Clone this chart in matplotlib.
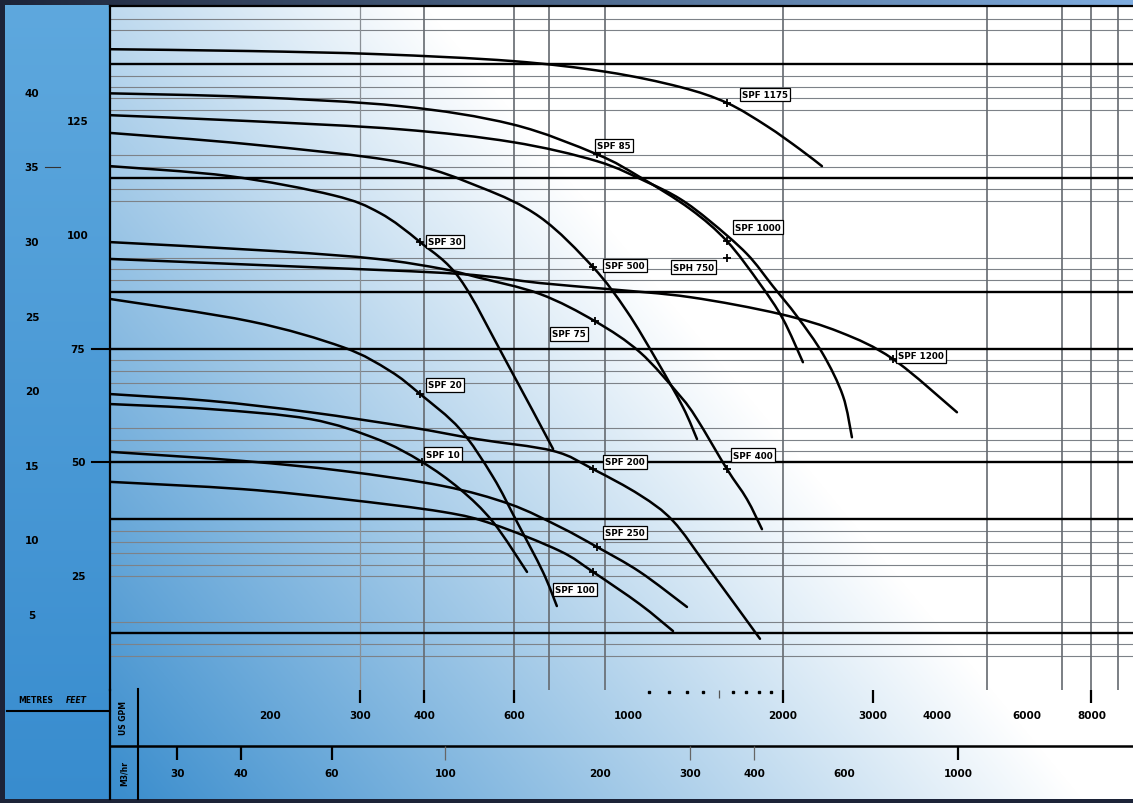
import numpy as np
import matplotlib
matplotlib.use("Agg")
import matplotlib.pyplot as plt
from matplotlib.lines import Line2D
from matplotlib.path import Path
from matplotlib.patches import PathPatch
from matplotlib.ticker import NullLocator

W, H = 1133, 804

# ---------------- data: pump curves, flow (US GPM) vs head (feet) ----------------
c1_gpm = [97.7, 183, 328, 594, 909, 1262, 1558, 1864, 2162, 2386]
c1_ft = [140.8, 140.4, 139.7, 138.2, 135.8, 132.5, 129.0, 123.9, 118.8, 115.1]

c2_gpm = [97.7, 183, 359, 594, 869, 1054, 1320, 1558, 1807, 2003, 2191]
c2_ft = [131.1, 130.3, 128.3, 124.3, 117.7, 112.7, 105.7, 98.6, 89.2, 81.5, 72.0]

c3_gpm = [97.7, 183, 359, 594, 869, 1088, 1262, 1444, 1704, 1915, 2133, 2397, 2622, 2730]
c3_ft = [126.3, 125.0, 123.2, 120.4, 116.2, 111.6, 107.9, 103.0, 95.8, 88.7, 82.1, 73.8, 64.6, 55.5]

c4_gpm = [97.7, 183, 359, 514, 673, 854, 994, 1138, 1279, 1362]
c4_ft = [122.4, 119.9, 116.0, 110.5, 103.9, 92.9, 83.2, 72.3, 62.1, 55.1]

c5_gpm = [97.7, 167, 266, 328, 393, 470, 575, 714]
c5_ft = [115.1, 112.9, 108.7, 104.8, 98.4, 90.3, 72.7, 52.9]

c6_gpm = [97.7, 207, 324, 435, 507, 673, 862, 1054, 1262, 1362, 1558, 1704, 1823]
c6_ft = [98.4, 96.4, 94.7, 92.5, 90.7, 87.0, 81.0, 74.2, 64.6, 59.5, 48.5, 41.9, 35.3]

c7_gpm = [97.7, 240, 470, 673, 909, 1320, 1976, 2588, 3282, 4374]
c7_ft = [94.7, 92.9, 91.4, 89.4, 88.1, 86.3, 82.6, 78.6, 72.7, 61.0]

c8_gpm = [97.7, 183, 278, 343, 393, 470, 545, 607, 682, 726]
c8_ft = [85.9, 81.0, 75.3, 70.1, 65.0, 57.3, 46.8, 36.9, 25.9, 18.4]

c9_gpm = [97.7, 153, 240, 376, 507, 714, 854, 1054, 1223, 1430, 1807]
c9_ft = [65.0, 63.5, 61.0, 57.7, 55.1, 52.5, 48.5, 42.8, 37.1, 26.9, 11.2]

c10_gpm = [97.7, 153, 240, 324, 396, 470, 545, 635]
c10_ft = [62.8, 61.7, 59.5, 55.1, 50.1, 44.1, 36.9, 25.9]

c11_gpm = [97.7, 177, 278, 435, 588, 736, 869, 1054, 1302]
c11_ft = [52.3, 50.3, 48.1, 44.8, 40.8, 35.8, 31.4, 25.9, 18.2]

c12_gpm = [97.7, 177, 278, 435, 545, 736, 854, 1054, 1223]
c12_ft = [45.7, 44.1, 41.9, 39.1, 36.4, 30.5, 25.9, 18.8, 12.9]

curves = [(c1_gpm, c1_ft), (c2_gpm, c2_ft), (c3_gpm, c3_ft), (c4_gpm, c4_ft),
          (c5_gpm, c5_ft), (c6_gpm, c6_ft), (c7_gpm, c7_ft), (c8_gpm, c8_ft),
          (c9_gpm, c9_ft), (c10_gpm, c10_ft), (c11_gpm, c11_ft), (c12_gpm, c12_ft)]

# model labels and best-efficiency marks
label_names = ["SPF 1175", "SPF 85", "SPF 1000", "SPF 30", "SPF 500", "SPH 750", "SPF 75",
               "SPF 1200", "SPF 20", "SPF 10", "SPF 200", "SPF 400", "SPF 250", "SPF 100"]
label_gpm = [1667, 869, 1615, 407, 901, 1223, 710, 3357, 407, 404, 901, 1600, 901, 720]
label_ft = [130.9, 119.7, 101.7, 98.6, 93.3, 92.9, 78.2, 73.4, 67.0, 51.8, 50.1, 51.6, 34.5, 22.1]
bep_gpm = [1558, 869, 1558, 393, 854, 1558, 862, 3282, 393, 396, 854, 1558, 869, 854]
bep_ft = [129.0, 117.7, 98.6, 98.4, 92.9, 95.0, 81.0, 72.7, 65.0, 50.1, 48.5, 48.5, 31.4, 25.9]

# grid
thick_ft = [137.5, 112.5, 87.5, 75, 50, 37.5, 12.5]
thin_ft = [147.5, 145, 135, 132.5, 130, 127.5, 117.5, 115, 110, 107.5, 95, 92.5, 90,
           72.5, 70, 67.5, 57.5, 55, 52.5, 35, 32.5, 30, 27.5, 25, 15, 10, 7.5]
vgrid_gpm = [400, 600, 700, 900, 2000, 5000, 7000, 8000, 9000]
vgrid_faint_gpm = [300]

# axes scales
feet_labels = [125, 100, 75, 50, 25]
feet_with_line = [75, 50]
metre_labels = [40, 35, 30, 25, 20, 15, 10, 5]
FT_PER_M = 3.2808
gpm_labels = [200, 300, 400, 600, 1000, 2000, 3000, 4000, 6000, 8000]
gpm_tick_marks = [300, 400, 600, 2000, 3000, 8000]
gpm_minor_dots = [1100, 1200, 1300, 1400, 1600, 1700, 1800, 1900]
gpm_minor_tick = [1500]
m3h_labels = [30, 40, 60, 100, 200, 300, 400, 600, 1000]
m3h_bold_ticks = [30, 40, 60, 1000]
m3h_thin_ticks = [100, 300, 400]
GPM_PER_M3H = 4.403

XMIN, XMAX = 97.7, 9640
YMIN, YMAX = 0, 150.3

# ---------------- figure ----------------
fig = plt.figure(figsize=(W / 100, H / 100), dpi=100)
navy = np.array([0.11, 0.14, 0.22])
fig.patch.set_facecolor(navy)


def fx(px):
    return px / W


def fy(py):
    return 1 - py / H


def smooth_path(xs, ys):
    """Smooth (Catmull-Rom as cubic Bezier) path through the read points, in log-x space."""
    pts = np.column_stack([np.log10(xs), np.asarray(ys, float)])
    n = len(pts)
    verts = [pts[0]]
    codes = [Path.MOVETO]
    for i in range(n - 1):
        p0 = pts[i - 1] if i > 0 else pts[i]
        p1 = pts[i]
        p2 = pts[i + 1]
        p3 = pts[i + 2] if i + 2 < n else pts[i + 1]
        verts += [p1 + (p2 - p0) / 6.0, p2 - (p3 - p1) / 6.0, p2]
        codes += [Path.CURVE4] * 3
    verts = np.array(verts)
    verts[:, 0] = 10 ** verts[:, 0]
    return Path(verts, codes)


# background gradient
yy, xx = np.mgrid[0:H, 0:W].astype(float)
u = (xx - 110) / 800.0
v = (800 - yy) / 795.0
w = np.clip(0.064 + 0.77 * u + 0.635 * v, 0, 1)
blue = np.array([0.17, 0.52, 0.79])
img = blue + (1 - blue) * w[..., None]
tv = (yy / 800.0)[..., None]
left_col = np.array([0.37, 0.66, 0.87]) * (1 - tv) + np.array([0.22, 0.55, 0.81]) * tv
lp = xx < 110
img[lp] = left_col[lp]
img[:, :5] = navy
img[800:, :] = navy
s = (xx[:6] / W)[..., None]
img[:6, :] = navy * (1 - s) + np.array([0.50, 0.68, 0.88]) * s
bg = fig.add_axes([0, 0, 1, 1])
bg.imshow(img, aspect="auto", extent=(0, W, H, 0), interpolation="bilinear")
bg.set_axis_off()

# main chart
ax = fig.add_axes([fx(110), fy(690.75), (W - 110) / W, (690.75 - 7) / H])
ax.set_facecolor("none")
ax.set_xscale("log")
ax.set_xlim(XMIN, XMAX)
ax.set_ylim(YMIN, YMAX)
ax.xaxis.set_major_locator(NullLocator())
ax.xaxis.set_minor_locator(NullLocator())
ax.yaxis.set_major_locator(NullLocator())
ax.yaxis.set_minor_locator(NullLocator())
for side in ["right", "bottom"]:
    ax.spines[side].set_visible(False)
for side in ["left", "top"]:
    ax.spines[side].set_linewidth(1.6)
    ax.spines[side].set_color("black")

for f in thin_ft:
    ax.axhline(f, color="#7d8288", lw=0.8, zorder=1)
for f in thick_ft:
    ax.axhline(f, color="black", lw=1.7, zorder=1.5)
for g in vgrid_gpm:
    ax.axvline(g, color="#656a70", lw=1.2, zorder=1.2)
for g in vgrid_faint_gpm:
    ax.axvline(g, color="#8a9096", lw=0.9, zorder=1.2)

for gx, fyv in curves:
    ax.add_patch(PathPatch(smooth_path(gx, fyv), fill=False, ec="black", lw=1.8,
                           capstyle="round", joinstyle="round", zorder=3))

ax.plot(bep_gpm, bep_ft, linestyle="none", marker="+", ms=6, mew=1.3,
        color="black", zorder=4)
for name, gx, fyv in zip(label_names, label_gpm, label_ft):
    ax.text(gx, fyv, name, fontsize=6.3, fontweight="bold", ha="left", va="center",
            color="black", zorder=6,
            bbox=dict(boxstyle="square,pad=0.25", fc="white", ec="black", lw=0.9))

# left panel labels (feet and metres)
ytr = ax.get_yaxis_transform()
x_ft = (78 - 110) / (W - 110)
x_m = (32 - 110) / (W - 110)
for f in feet_labels:
    ax.text(x_ft, f, str(f), transform=ytr, fontsize=7.5, fontweight="bold",
            ha="center", va="center", clip_on=False)
for f in feet_with_line:
    ax.add_line(Line2D([(92 - 110) / (W - 110), 0], [f, f], transform=ytr,
                       color="black", lw=1.5, clip_on=False))
for m in metre_labels:
    ax.text(x_m, m * FT_PER_M, str(m), transform=ytr, fontsize=7.5, fontweight="bold",
            ha="center", va="center", clip_on=False)
ax.add_line(Line2D([(45 - 110) / (W - 110), (60 - 110) / (W - 110)],
                   [35 * FT_PER_M, 35 * FT_PER_M], transform=ytr,
                   color="#333333", lw=0.8, clip_on=False))

# bottom scale panel
bx = fig.add_axes([fx(110), fy(800), (W - 110) / W, (800 - 690.75) / H])
bx.set_facecolor("none")
bx.set_xscale("log")
bx.set_xlim(XMIN, XMAX)
bx.set_ylim(0, 1)
bx.xaxis.set_major_locator(NullLocator())
bx.xaxis.set_minor_locator(NullLocator())
bx.yaxis.set_major_locator(NullLocator())
for side in ["right", "bottom", "top"]:
    bx.spines[side].set_visible(False)
bx.spines["left"].set_linewidth(1.6)
bx.spines["left"].set_color("black")
bx.axhline(0.485, color="black", lw=1.8)

bx.vlines(gpm_tick_marks, 0.875, 1.0, color="black", lw=1.6)
bx.vlines(gpm_minor_tick, 0.92, 1.0, color="#555555", lw=0.9)
bx.plot(gpm_minor_dots, [0.975] * len(gpm_minor_dots), linestyle="none",
        marker="s", ms=1.6, color="black")
for g in gpm_labels:
    bx.text(g, 0.765, str(g), fontsize=7.5, fontweight="bold", ha="center", va="center")

m3_bold = [m * GPM_PER_M3H for m in m3h_bold_ticks]
m3_thin = [m * GPM_PER_M3H for m in m3h_thin_ticks]
bx.vlines(m3_bold, 0.36, 0.485, color="black", lw=1.6)
bx.vlines(m3_thin, 0.36, 0.485, color="#666666", lw=0.9)
for m in m3h_labels:
    bx.text(m * GPM_PER_M3H, 0.24, str(m), fontsize=7.5, fontweight="bold",
            ha="center", va="center")

# frame lines and side captions
fig.add_artist(Line2D([fx(138), fx(138)], [fy(690), fy(800)], transform=fig.transFigure,
                      color="black", lw=1.5))
fig.add_artist(Line2D([fx(7), fx(110)], [fy(712), fy(712)], transform=fig.transFigure,
                      color="black", lw=1.5))
fig.text(fx(36), fy(701), "METRES", fontsize=5.5, fontweight="bold", ha="center", va="center")
fig.text(fx(76), fy(701), "FEET", fontsize=5.5, fontstyle="italic", fontweight="bold",
         ha="center", va="center")
fig.text(fx(124), fy(718), "US GPM", fontsize=5.5, fontweight="bold", rotation=90,
         ha="center", va="center")
fig.text(fx(124), fy(774), "M3/hr", fontsize=5.5, fontweight="bold", rotation=90,
         ha="center", va="center")

fig.savefig("out.png", dpi=100, facecolor=fig.get_facecolor())
